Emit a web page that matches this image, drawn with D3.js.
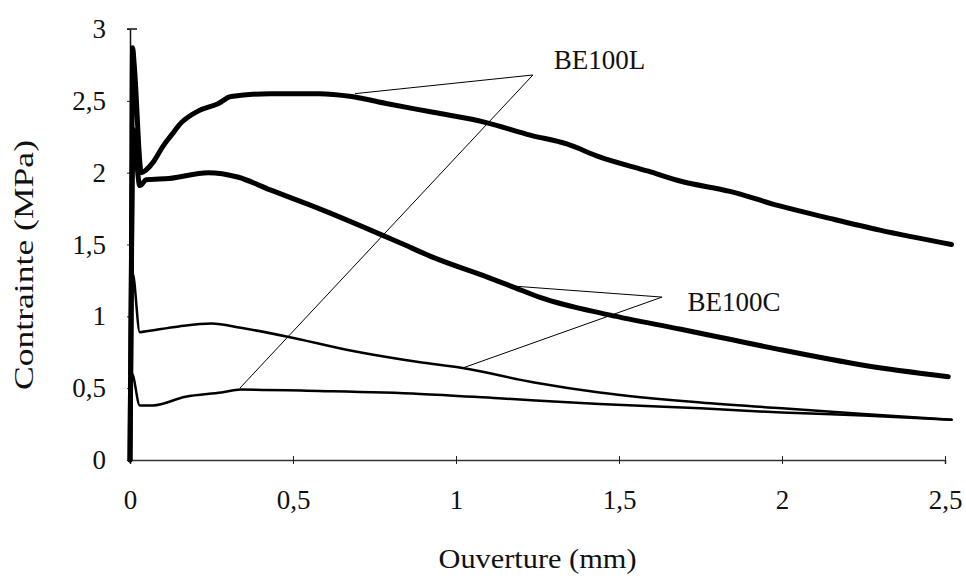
<!DOCTYPE html>
<html>
<head>
<meta charset="utf-8">
<script src="https://cdn.jsdelivr.net/npm/d3@7"></script>
<style>
  body { margin: 0; background: #fff; }
  svg { display: block; }
  text { font-family: "Liberation Serif", "Times New Roman", serif; fill: #111; }
</style>
</head>
<body>
<div id="viz"></div>
<script>
// ouverture (mm), contrainte (MPa)
var be100lThick = [[0,0],[0.004,1.2],[0.008,2.87],[0.013,2.75],[0.035,2.0],[0.05,2.02],[0.07,2.07],[0.1,2.18],[0.13,2.27],[0.15,2.33],[0.21,2.43],[0.27,2.48],[0.31,2.53],[0.43,2.55],[0.58,2.55],[0.68,2.53],[0.79,2.48],[0.93,2.42],[1.09,2.35],[1.23,2.26],[1.34,2.2],[1.44,2.11],[1.59,2.01],[1.69,1.94],[1.84,1.87],[1.99,1.77],[2.15,1.68],[2.3,1.6],[2.52,1.5]]
var be100cThick = [[0,0],[0.005,1.5],[0.01,2.3],[0.03,1.91],[0.05,1.95],[0.12,1.96],[0.24,2.0],[0.33,1.97],[0.43,1.88],[0.58,1.75],[0.83,1.51],[0.93,1.41],[1.1,1.27],[1.18,1.2],[1.26,1.13],[1.47,1.01],[1.69,0.91],[1.84,0.84],[1.99,0.77],[2.25,0.66],[2.51,0.58]]
var be100cThin = [[0,0],[0.008,1.3],[0.03,0.89],[0.06,0.9],[0.15,0.93],[0.25,0.95],[0.34,0.92],[0.48,0.86],[0.68,0.76],[0.89,0.68],[1.02,0.64],[1.24,0.54],[1.44,0.47],[1.75,0.4],[2.0,0.36],[2.25,0.32],[2.52,0.28]]
var be100lThin = [[0,0],[0.006,0.6],[0.03,0.38],[0.07,0.38],[0.17,0.44],[0.28,0.47],[0.34,0.49],[0.58,0.48],[0.89,0.46],[1.13,0.43],[1.44,0.39],[1.75,0.36],[2.0,0.33],[2.25,0.31],[2.52,0.28]]

var xTicks = [0, 0.5, 1, 1.5, 2, 2.5]
var yTicks = [0, 0.5, 1, 1.5, 2, 2.5, 3]

// labels: text, position, then the leader line ends
var labels = ['BE100L', 'BE100C']
var labelPos = [[1.30, 2.72], [1.71, 1.04]]
var leaderApex = [[1.236, 2.68], [1.632, 1.134]]
var leaderEnds = [[[0.69, 2.55], [0.337, 0.5]], [[1.18, 1.21], [1.02, 0.64]]]

var width = 966, height = 581

var x = d3.scaleLinear().domain([0, 2.5]).range([130, 945])
var y = d3.scaleLinear().domain([0, 3]).range([460, 29])

var fr = d3.formatLocale({decimal: ',', thousands: ' ', grouping: [3], currency: ['', '']})
var fmt = fr.format('~g')

var svg = d3.select('#viz').append('svg')
  .attr('width', width)
  .attr('height', height)

// x axis
var xAxis = svg.append('g')
  .attr('transform', 'translate(0,' + y(0) + ')')
  .call(d3.axisBottom(x).tickValues(xTicks).tickSize(4).tickFormat(fmt))
xAxis.select('.domain').attr('stroke', '#333').attr('stroke-width', 1.5)
xAxis.selectAll('.tick line').attr('y1', -4).attr('stroke', '#222')
xAxis.selectAll('.tick text')
  .attr('y', 30)
  .attr('font-size', 27)

// y axis
var yAxis = svg.append('g')
  .attr('transform', 'translate(' + x(0) + ',0)')
  .call(d3.axisLeft(y).tickValues(yTicks).tickSize(3).tickSizeOuter(0).tickFormat(fmt))
yAxis.select('.domain').attr('stroke', '#111').attr('stroke-width', 1.5)
yAxis.selectAll('.tick line').attr('stroke', '#222')
yAxis.selectAll('.tick text')
  .attr('x', -24)
  .attr('font-size', 27)
// small cap at the top of the axis
yAxis.append('line')
  .attr('x1', -3).attr('x2', 7)
  .attr('y1', y(3)).attr('y2', y(3))
  .attr('stroke', '#111').attr('stroke-width', 1.5)

svg.append('text')
  .attr('x', x(1.25))
  .attr('y', 568)
  .attr('text-anchor', 'middle')
  .attr('font-size', 27)
  .attr('textLength', 198)
  .attr('lengthAdjust', 'spacingAndGlyphs')
  .text('Ouverture (mm)')

svg.append('text')
  .attr('transform', 'translate(33,' + 265 + ') rotate(-90)')
  .attr('text-anchor', 'middle')
  .attr('font-size', 27)
  .attr('textLength', 250)
  .attr('lengthAdjust', 'spacingAndGlyphs')
  .text('Contrainte (MPa)')

var line = d3.line()
  .x(function(d) { return x(d[0]); })
  .y(function(d) { return y(d[1]); })
  .curve(d3.curveMonotoneX)

var series = [be100lThin, be100cThin, be100cThick, be100lThick]
var widths = [2.5, 2.5, 5, 5]

svg.selectAll('path.curve').data(series)
  .enter().append('path')
  .attr('class', 'curve')
  .attr('d', line)
  .attr('fill', 'none')
  .attr('stroke', '#000')
  .attr('stroke-width', function(d, i) { return widths[i]; })
  .attr('stroke-linejoin', 'round')
  .attr('stroke-linecap', 'round')

// leader lines
leaderEnds.forEach(function(ends, i) {
  ends.forEach(function(e) {
    svg.append('line')
      .attr('x1', x(leaderApex[i][0])).attr('y1', y(leaderApex[i][1]))
      .attr('x2', x(e[0])).attr('y2', y(e[1]))
      .attr('stroke', '#000')
      .attr('stroke-width', 1)
  })
})

svg.selectAll('text.lab').data(labels)
  .enter().append('text')
  .attr('class', 'lab')
  .attr('x', function(d, i) { return x(labelPos[i][0]); })
  .attr('y', function(d, i) { return y(labelPos[i][1]); })
  .attr('font-size', 27)
  .text(function(d) { return d; })
</script>
</body>
</html>
